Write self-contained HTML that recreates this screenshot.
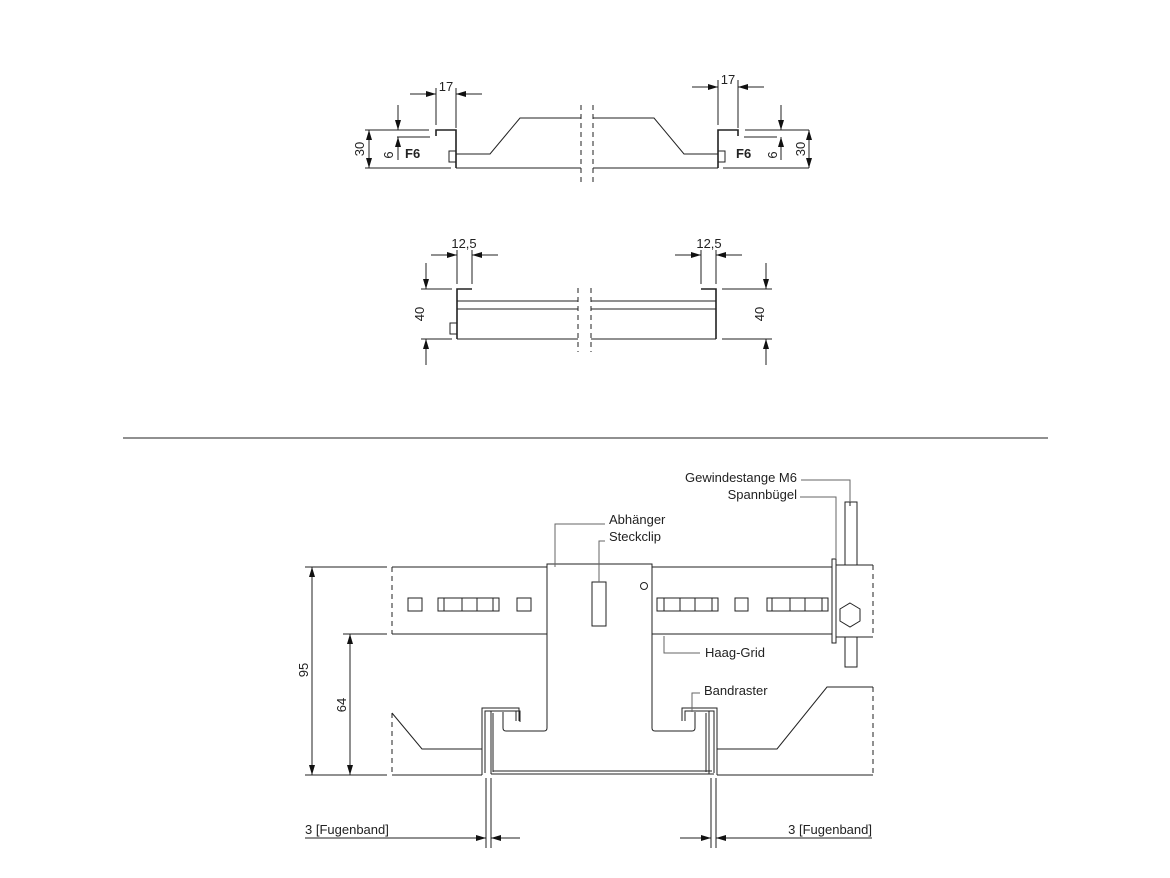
<!DOCTYPE html>
<html><head><meta charset="utf-8"><style>
html,body{margin:0;padding:0;background:#fff}
svg{display:block}
text{font-family:"Liberation Sans",sans-serif;fill:#222}
</style></head><body>
<svg width="1170" height="878" viewBox="0 0 1170 878" xmlns="http://www.w3.org/2000/svg">
<defs>
<marker id="a" viewBox="0 0 10 6" refX="10" refY="3" markerWidth="10" markerHeight="6" orient="auto-start-reverse" markerUnits="userSpaceOnUse"><path d="M0,0 L10,3 L0,6z" fill="#111"/></marker>
</defs>
<g fill="none" stroke="#222" stroke-width="1">
<!-- TOP DRAWING left -->
<path d="M436,136 V130 H456 V168" stroke-width="1.6"/>
<path d="M365,130 H429 M365,168 H451 M397,137 H430"/>
<rect x="449" y="151" width="7" height="11"/>
<path d="M456,168 H581 M456,154 H490 L520,118 H581"/>
<line x1="369" y1="130" x2="369" y2="168" marker-start="url(#a)" marker-end="url(#a)"/>
<line x1="398" y1="105" x2="398" y2="130" marker-end="url(#a)"/>
<line x1="398" y1="160" x2="398" y2="137" marker-end="url(#a)"/>
<line x1="436" y1="88" x2="436" y2="125"/><line x1="456" y1="88" x2="456" y2="128"/>
<line x1="410" y1="94" x2="436" y2="94" marker-end="url(#a)"/>
<line x1="482" y1="94" x2="456" y2="94" marker-end="url(#a)"/>
<path d="M581,105 V182 M593,105 V182" stroke-dasharray="5,4"/>
<!-- TOP right -->
<path d="M738,136 V130 H718 V168" stroke-width="1.6"/>
<path d="M809,130 H745 M809,168 H723 M777,137 H744"/>
<rect x="718" y="151" width="7" height="11"/>
<path d="M718,168 H593 M718,154 H684 L654,118 H593"/>
<line x1="809" y1="130" x2="809" y2="168" marker-start="url(#a)" marker-end="url(#a)"/>
<line x1="781" y1="105" x2="781" y2="130" marker-end="url(#a)"/>
<line x1="781" y1="160" x2="781" y2="137" marker-end="url(#a)"/>
<line x1="718" y1="80" x2="718" y2="125"/><line x1="738" y1="80" x2="738" y2="128"/>
<line x1="692" y1="87" x2="718" y2="87" marker-end="url(#a)"/>
<line x1="764" y1="87" x2="738" y2="87" marker-end="url(#a)"/>

<!-- MIDDLE -->
<path d="M472,289 H457 V339 M701,289 H716 V339" stroke-width="1.6"/>
<path d="M457,301 H578 M457,309 H578 M457,339 H578 M591,301 H716 M591,309 H716 M591,339 H716"/>
<rect x="450" y="323" width="7" height="11"/>
<path d="M578,288 V352 M591,288 V352" stroke-dasharray="5,4"/>
<line x1="457" y1="250" x2="457" y2="284"/><line x1="472" y1="250" x2="472" y2="284"/>
<line x1="431" y1="255" x2="457" y2="255" marker-end="url(#a)"/>
<line x1="498" y1="255" x2="472" y2="255" marker-end="url(#a)"/>
<line x1="701" y1="250" x2="701" y2="284"/><line x1="716" y1="250" x2="716" y2="284"/>
<line x1="675" y1="255" x2="701" y2="255" marker-end="url(#a)"/>
<line x1="742" y1="255" x2="716" y2="255" marker-end="url(#a)"/>
<path d="M421,289 H452 M421,339 H452 M722,289 H772 M722,339 H772"/>
<line x1="426" y1="263" x2="426" y2="289" marker-end="url(#a)"/>
<line x1="426" y1="365" x2="426" y2="339" marker-end="url(#a)"/>
<line x1="766" y1="263" x2="766" y2="289" marker-end="url(#a)"/>
<line x1="766" y1="365" x2="766" y2="339" marker-end="url(#a)"/>

<line x1="123" y1="438" x2="1048" y2="438"/>

<!-- BOTTOM -->
<path d="M392,567 V634 M392,713 V775 M873,565 V637 M873,687 V775" stroke-dasharray="5,4"/>
<path d="M392,567 H547 M652,567 H832 M392,634 H547 M652,634 H832"/>
<path d="M547,728 V564 H652 V728"/>
<g>
<rect x="408" y="598" width="14" height="13"/><rect x="438" y="598" width="61" height="13"/>
<path d="M444,598 V611 M462,598 V611 M477,598 V611 M493,598 V611"/>
<rect x="517" y="598" width="14" height="13"/>
<rect x="657" y="598" width="61" height="13"/>
<path d="M664,598 V611 M680,598 V611 M695,598 V611 M712,598 V611"/>
<rect x="735" y="598" width="13" height="13"/>
<rect x="767" y="598" width="61" height="13"/>
<path d="M772,598 V611 M790,598 V611 M805,598 V611 M822,598 V611"/>
</g>
<rect x="592" y="582" width="14" height="44"/>
<circle cx="644" cy="586" r="3.5"/>
<rect x="832" y="559" width="4" height="84"/>
<path d="M836,565 H873 M836,637 H873"/>
<polygon points="850,603 860,609 860,621 850,627 840,621 840,609"/>
<path d="M845,565 V502 H857 V565 M850,502 V506 M845,637 V667 H857 V637"/>
<!-- lower -->
<path d="M392,713 L422,749 H482 M392,775 H482 M717,749 H777 L827,687 H873 M717,775 H873"/>
<path d="M482,775 V708 H519 V721 M485,773 V711 H516 V721"/>
<path d="M491,774 V711 H520 V722 M493,772 V713" />
<path d="M491,774 H714 M493,771 H712"/>
<path d="M717,775 V708 H682 V721 M714,773 V711 H685 V721 M709,774 V711 M706,772 V713"/>
<path d="M547,728 Q547,731 544,731 H506 Q503,731 503,728 V712"/>
<path d="M652,728 Q652,731 655,731 H692 Q695,731 695,728 V712"/>
<!-- leaders -->
<g stroke="#666">
<path d="M801,480 H850 V502 M800,497 H836 V559 M605,524 H555 V567 M605,541 H599 V582 M700,653 H664 V636 M700,693 H692 V712"/>
</g>
<!-- dims -->
<path d="M305,567 H387 M343,634 H387 M305,775 H387"/>
<line x1="312" y1="567" x2="312" y2="775" marker-start="url(#a)" marker-end="url(#a)"/>
<line x1="350" y1="634" x2="350" y2="775" marker-start="url(#a)" marker-end="url(#a)"/>
<path d="M486,778 V848 M491,778 V848 M711,778 V848 M716,778 V848"/>
<line x1="305" y1="838" x2="486" y2="838" marker-end="url(#a)"/>
<line x1="520" y1="838" x2="491" y2="838" marker-end="url(#a)"/>
<line x1="872" y1="838" x2="716" y2="838" marker-end="url(#a)"/>
<line x1="680" y1="838" x2="711" y2="838" marker-end="url(#a)"/>
</g>
<g font-size="13">
<text x="446" y="91" text-anchor="middle">17</text>
<text x="728" y="84" text-anchor="middle">17</text>
<text x="405" y="158" font-weight="bold">F6</text>
<text x="736" y="158" font-weight="bold">F6</text>
<text transform="translate(364,149) rotate(-90)" text-anchor="middle">30</text>
<text transform="translate(393,155) rotate(-90)" text-anchor="middle">6</text>
<text transform="translate(805,149) rotate(-90)" text-anchor="middle">30</text>
<text transform="translate(777,155) rotate(-90)" text-anchor="middle">6</text>
<text x="464" y="248" text-anchor="middle">12,5</text>
<text x="709" y="248" text-anchor="middle">12,5</text>
<text transform="translate(424,314) rotate(-90)" text-anchor="middle">40</text>
<text transform="translate(764,314) rotate(-90)" text-anchor="middle">40</text>
<text x="797" y="482" text-anchor="end">Gewindestange M6</text>
<text x="797" y="499" text-anchor="end">Spannbügel</text>
<text x="609" y="524">Abhänger</text>
<text x="609" y="541">Steckclip</text>
<text x="705" y="657">Haag-Grid</text>
<text x="704" y="695">Bandraster</text>
<text transform="translate(308,670) rotate(-90)" text-anchor="middle">95</text>
<text transform="translate(346,705) rotate(-90)" text-anchor="middle">64</text>
<text x="305" y="834">3 [Fugenband]</text>
<text x="872" y="834" text-anchor="end">3 [Fugenband]</text>
</g>
</svg>
</body></html>
